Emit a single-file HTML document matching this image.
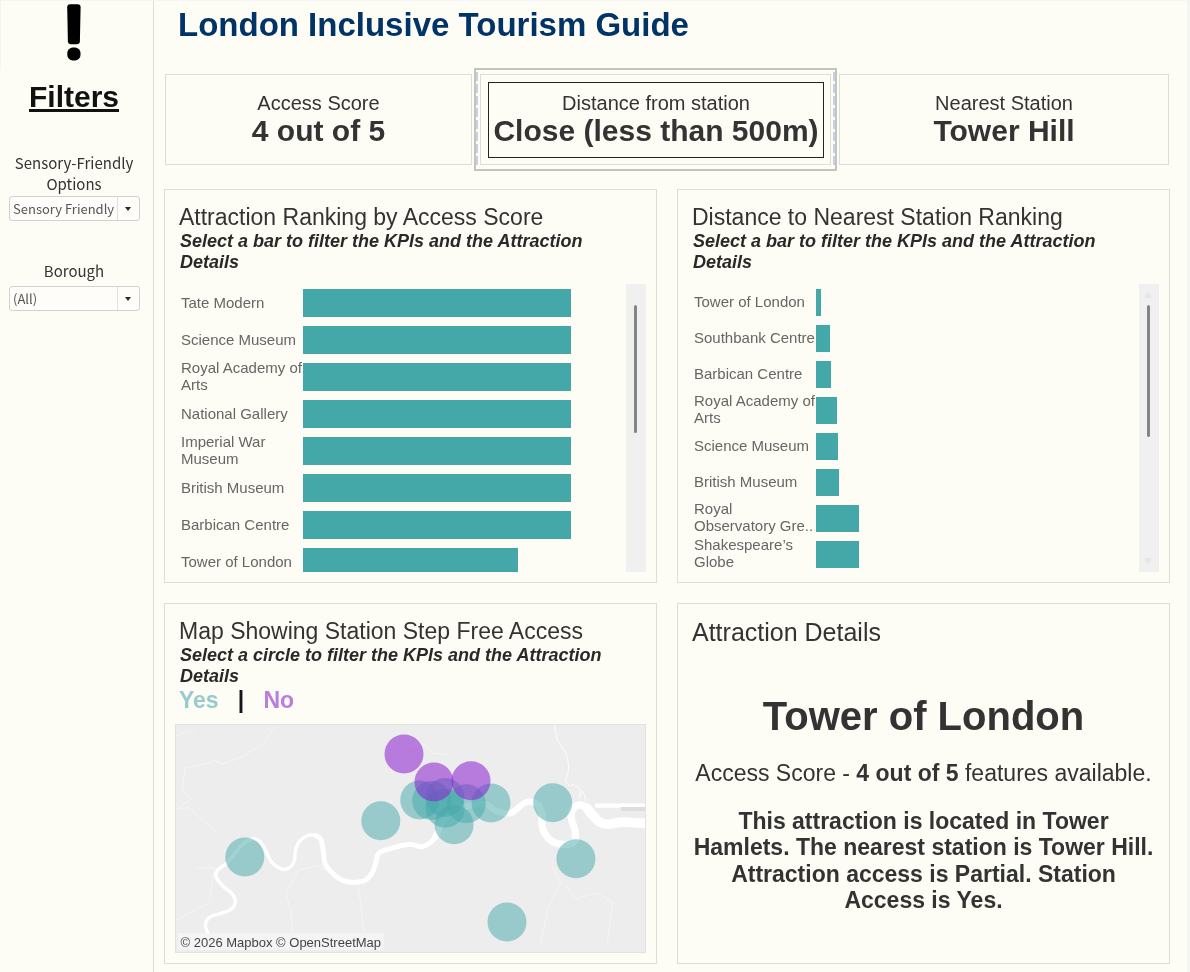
<!DOCTYPE html>
<html lang="en">
<head>
<meta charset="utf-8">
<title>London Inclusive Tourism Guide</title>
<style>
html,body{margin:0;padding:0;}
body{width:1190px;height:972px;background:#fdfcf5;position:relative;overflow:hidden;font-family:"Liberation Sans",Arial,sans-serif;color:#333;}
.abs{position:absolute;}
.box{position:absolute;border:1px solid #deddd2;box-sizing:border-box;}
.side-line{position:absolute;left:153px;top:0;width:1px;height:972px;background:#deddd2;}
.title{position:absolute;left:178px;top:5.5px;font-weight:bold;font-size:33px;line-height:38px;color:#003366;white-space:nowrap;}
.filters{position:absolute;left:0;width:148px;top:80px;text-align:center;font-weight:bold;font-size:30px;line-height:34px;color:#111;text-decoration:underline;}
.flabel{position:absolute;left:0;width:148px;text-align:center;font-family:"Noto Sans CJK SC","DejaVu Sans",sans-serif;font-size:15px;line-height:21px;color:#333;}
.dd{position:absolute;left:9px;width:131px;height:25px;box-sizing:border-box;border:1px solid #d2d2d4;border-radius:3px;background:#fefdfa;font-family:"Noto Sans CJK SC","DejaVu Sans",sans-serif;font-size:13px;color:#555;}
.dd span{position:absolute;left:3px;top:0;line-height:23px;white-space:nowrap;}
.dd i{position:absolute;left:107px;top:0;width:1px;height:23px;background:#e0e0e0;}
.dd b{position:absolute;left:115px;top:10px;width:0;height:0;border-left:3.5px solid transparent;border-right:3.5px solid transparent;border-top:4px solid #2a2a2a;}
.kpi-l{position:absolute;text-align:center;font-size:20px;line-height:23px;color:#333;white-space:nowrap;}
.kpi-v{position:absolute;text-align:center;font-size:30px;line-height:34px;font-weight:bold;color:#333;white-space:nowrap;}
.ptitle{position:absolute;font-size:23px;line-height:27px;color:#333;white-space:nowrap;}
.psub{position:absolute;font-size:18px;line-height:21px;font-weight:bold;font-style:italic;color:#292929;width:440px;}
.lbl{position:absolute;font-size:15px;line-height:17px;color:#666;white-space:nowrap;}
.bar{position:absolute;background:#44a8a9;}
</style>
</head>
<body>
<div class="side-line"></div>
<div class="abs" style="left:0;top:0;width:1190px;height:1px;background:#f5f5f5"></div>
<div class="abs" style="left:1187px;top:0;width:3px;height:972px;background:#f5f5f5"></div>
<div class="abs" style="left:0;top:0;width:1px;height:70px;background:#f5f5f5"></div>
<!-- sidebar -->
<svg class="abs" style="left:60px;top:0" width="30" height="66" viewBox="0 0 30 66">
  <path d="M7.2 7.2 Q7.2 4.2 10.2 4.2 L17.6 4.2 Q20.6 4.2 20.6 7.2 L19.9 41.2 Q19.8 44.2 16.8 44.2 L11 44.2 Q8 44.2 7.9 41.2 Z" fill="#000"/>
  <rect x="7.3" y="47.6" width="13.2" height="12.8" rx="5.4" fill="#000"/>
</svg>
<div class="filters">Filters</div>
<div class="flabel" style="top:152px">Sensory-Friendly<br>Options</div>
<div class="dd" style="top:196px"><span>Sensory Friendly</span><i></i><b></b></div>
<div class="flabel" style="top:260px">Borough</div>
<div class="dd" style="top:286px"><span>(All)</span><i></i><b></b></div>

<div class="title">London Inclusive Tourism Guide</div>

<!-- KPIs -->
<div class="box" style="left:165px;top:74px;width:307px;height:91px"></div>
<div class="kpi-l" style="left:165px;width:307px;top:92px">Access Score</div>
<div class="kpi-v" style="left:165px;width:307px;top:114px">4 out of 5</div>

<div class="abs" style="left:474px;top:68px;width:363px;height:103px;box-sizing:border-box;border:2px solid #c3c3c0"></div>
<div class="abs" style="left:476px;top:72px;width:2px;height:95px;background:repeating-linear-gradient(to bottom,#c5d0e3 0,#c5d0e3 9px,transparent 9px,transparent 12px)"></div>
<div class="abs" style="left:833px;top:72px;width:2px;height:95px;background:repeating-linear-gradient(to bottom,#c5d0e3 0,#c5d0e3 9px,transparent 9px,transparent 12px)"></div>
<div class="box" style="left:480px;top:74px;width:351px;height:91px"></div>
<div class="abs" style="left:488px;top:82px;width:336px;height:76px;box-sizing:border-box;border:1px solid #222"></div>
<div class="kpi-l" style="left:488px;width:336px;top:92px">Distance from station</div>
<div class="kpi-v" style="left:488px;width:336px;top:114px">Close (less than 500m)</div>

<div class="box" style="left:839px;top:74px;width:330px;height:91px"></div>
<div class="kpi-l" style="left:839px;width:330px;top:92px">Nearest Station</div>
<div class="kpi-v" style="left:839px;width:330px;top:114px">Tower Hill</div>

<!-- Panels -->
<div class="box" style="left:164px;top:189px;width:493px;height:394px"></div>
<div class="box" style="left:677px;top:189px;width:493px;height:394px"></div>
<div class="box" style="left:164px;top:603px;width:493px;height:361px"></div>
<div class="box" style="left:677px;top:603px;width:493px;height:361px"></div>

<!-- PANEL1 -->
<div class="ptitle" style="left:179px;top:204px">Attraction Ranking by Access Score</div>
<div class="psub" style="left:180px;top:231px">Select a bar to filter the KPIs and the Attraction Details</div>
<div class="abs" style="left:626px;top:284px;width:20px;height:288px;background:#f0f0f0"></div>
<div class="abs" style="left:634px;top:305px;width:3px;height:128px;background:#858585;border-radius:2px"></div>
<div class="bar" style="left:303px;top:289px;width:268px;height:28px"></div>
<div class="lbl" style="left:181px;top:294px">Tate Modern</div>
<div class="bar" style="left:303px;top:326px;width:268px;height:28px"></div>
<div class="lbl" style="left:181px;top:331px">Science Museum</div>
<div class="bar" style="left:303px;top:363px;width:268px;height:28px"></div>
<div class="lbl" style="left:181px;top:359px">Royal Academy of<br>Arts</div>
<div class="bar" style="left:303px;top:400px;width:268px;height:28px"></div>
<div class="lbl" style="left:181px;top:405px">National Gallery</div>
<div class="bar" style="left:303px;top:437px;width:268px;height:28px"></div>
<div class="lbl" style="left:181px;top:433px">Imperial War<br>Museum</div>
<div class="bar" style="left:303px;top:474px;width:268px;height:28px"></div>
<div class="lbl" style="left:181px;top:479px">British Museum</div>
<div class="bar" style="left:303px;top:511px;width:268px;height:28px"></div>
<div class="lbl" style="left:181px;top:516px">Barbican Centre</div>
<div class="bar" style="left:303px;top:548px;width:215px;height:24px"></div>
<div class="lbl" style="left:181px;top:553px">Tower of London</div>
<!-- PANEL2 -->
<div class="ptitle" style="left:692px;top:204px">Distance to Nearest Station Ranking</div>
<div class="psub" style="left:693px;top:231px">Select a bar to filter the KPIs and the Attraction Details</div>
<div class="abs" style="left:1139px;top:284px;width:20px;height:288px;background:#f0f0f0"></div>
<div class="abs" style="left:1147px;top:305px;width:3px;height:132px;background:#858585;border-radius:2px"></div>
<div class="abs" style="left:1144px;top:291px;width:0;height:0;border-left:4.5px solid transparent;border-right:4.5px solid transparent;border-bottom:7px solid #e6e6e6"></div>
<div class="abs" style="left:1144px;top:558px;width:0;height:0;border-left:4.5px solid transparent;border-right:4.5px solid transparent;border-top:7px solid #e6e6e6"></div>
<div class="bar" style="left:816px;top:289px;width:5px;height:27px"></div>
<div class="lbl" style="left:694px;top:293px">Tower of London</div>
<div class="bar" style="left:816px;top:325px;width:14px;height:27px"></div>
<div class="lbl" style="left:694px;top:329px">Southbank Centre</div>
<div class="bar" style="left:816px;top:361px;width:15px;height:27px"></div>
<div class="lbl" style="left:694px;top:365px">Barbican Centre</div>
<div class="bar" style="left:816px;top:397px;width:21px;height:27px"></div>
<div class="lbl" style="left:694px;top:392px">Royal Academy of<br>Arts</div>
<div class="bar" style="left:816px;top:433px;width:22px;height:27px"></div>
<div class="lbl" style="left:694px;top:437px">Science Museum</div>
<div class="bar" style="left:816px;top:469px;width:23px;height:27px"></div>
<div class="lbl" style="left:694px;top:473px">British Museum</div>
<div class="bar" style="left:816px;top:505px;width:43px;height:27px"></div>
<div class="lbl" style="left:694px;top:500px">Royal<br>Observatory Gre..</div>
<div class="bar" style="left:816px;top:541px;width:43px;height:27px"></div>
<div class="lbl" style="left:694px;top:536px">Shakespeare’s<br>Globe</div>
<!-- PANEL3 -->
<div class="ptitle" style="left:179px;top:618px">Map Showing Station Step Free Access</div>
<div class="psub" style="left:180px;top:645px">Select a circle to filter the KPIs and the Attraction Details</div>
<div class="abs" style="left:179px;top:687px;font-size:23px;line-height:26px;font-weight:bold;white-space:pre"><span style="color:#97cbcc">Yes</span>   <span style="color:#151520">|</span>   <span style="color:#ba7ddd">No</span></div>
<svg class="abs" style="left:175px;top:724px" width="471" height="229" viewBox="0 0 471 229">
<rect x="0" y="0" width="471" height="229" fill="#ededed"/>
<g fill="none" stroke="#f5f5f5" stroke-width="1" stroke-linejoin="round">
<polyline points="1.2,12.0 14.8,6.4 19.7,10.8"/>
<polyline points="9.8,44.1 27.1,40.4 39.4,36.7 46.9,40.4 66.6,33.0 88.8,19.5 99.9,2.2"/>
<polyline points="9.8,44.1 7.3,67.6 16.0,75.0 2.4,84.9"/>
<polyline points="2.4,84.9 14.8,83.7 22.2,92.3 32.0,99.7 41.9,109.6"/>
<polyline points="22.2,144.1 39.4,144.1 34.5,178.7 1.2,196.0"/>
<polyline points="111.0,168.8 123.4,146.6 140.7,141.7 150.6,145.4"/>
<polyline points="111.0,168.8 116.0,188.6 117.2,208.3"/>
<polyline points="182.7,161.4 186.4,183.7 188.8,208.3"/>
<polyline points="233.6,20.7 247.2,19.5 258.3,29.3 271.9,30.6"/>
<polyline points="375.7,139.2 385.6,159.0 373.2,183.7 365.8,218.2"/>
<polyline points="390.5,161.4 400.4,175.0 422.6,168.8 437.5,178.7 432.5,218.2"/>
</g>
<g fill="none" stroke="#fff" stroke-linejoin="round" stroke-linecap="round">
<path d="M379.6 1.0 C380.2 3.7 381.0 12.0 383.0 17.0 C385.0 22.0 389.6 26.2 391.4 30.9 C393.1 35.6 393.6 41.1 393.5 45.4 C393.4 49.7 390.4 53.8 390.7 56.6 C391.1 59.4 394.3 61.5 395.6 62.1 C396.9 62.7 396.7 59.8 398.3 60.4 C399.9 61.0 404.4 63.4 405.3 65.6 C406.2 67.9 403.4 73.5 403.9 73.9 C404.3 74.2 406.9 67.1 408.0 67.7 C409.1 68.3 410.3 75.8 410.8 77.4" stroke-width="1" stroke-opacity="0.8"/>
<path d="M33.5 212.0 C33.4 211.4 33.1 210.5 32.6 208.5 C32.1 206.5 30.0 202.8 30.3 200.2 C30.7 197.7 32.3 194.9 34.7 193.2 C37.0 191.5 40.9 191.1 44.4 189.8 C47.9 188.5 52.9 187.6 55.6 185.6 C58.3 183.6 60.2 180.6 60.4 177.9 C60.6 175.2 58.9 172.1 56.9 169.6 C54.9 167.1 51.1 165.3 48.6 162.7 C46.1 160.2 42.8 156.8 41.7 154.3 C40.5 151.7 40.8 149.4 41.7 147.4 C42.6 145.4 45.5 143.9 47.2 142.5 C48.9 141.1 49.8 141.5 52.1 139.1 C54.4 136.7 58.2 131.3 61.1 127.9 C64.0 124.5 66.4 121.1 69.4 118.9 C72.4 116.7 76.4 114.8 79.2 114.8 C82.0 114.8 84.1 116.8 86.1 118.9 C88.1 121.0 89.4 124.2 91.0 127.2 C92.6 130.3 93.8 134.3 95.8 137.0 C97.8 139.7 100.5 141.8 102.8 143.2 C105.1 144.6 107.4 145.5 109.7 145.3 C112.0 145.1 115.0 143.5 116.7 141.8 C118.4 140.1 119.0 137.7 119.7 134.9 C120.3 132.1 119.7 128.2 120.6 125.2 C121.5 122.2 123.1 119.0 125.0 116.8 C126.9 114.6 129.3 112.9 131.9 112.0 C134.4 111.1 138.0 110.7 140.3 111.3 C142.6 111.9 144.9 114.7 145.8 115.4" stroke-width="3.4"/>
<path d="M140.3 111.3 C141.2 112.0 144.4 112.6 145.8 115.4 C147.2 118.2 147.8 124.2 148.5 128.2 C149.2 132.2 148.6 136.0 149.9 139.3 C151.2 142.5 153.7 145.2 156.1 147.7 C158.5 150.3 161.6 152.9 164.4 154.6 C167.2 156.3 169.8 157.1 172.8 157.7 C175.8 158.3 179.5 158.4 182.5 158.1 C185.5 157.8 188.4 157.5 190.8 156.0 C193.2 154.5 195.5 151.9 197.1 149.1 C198.7 146.3 199.7 142.3 200.6 139.3 C201.5 136.3 201.7 133.0 202.6 131.0 C203.5 129.0 203.7 128.7 206.1 127.5 C208.5 126.4 213.5 125.1 217.2 124.1 C220.9 123.1 225.1 121.9 228.3 121.3 C231.6 120.7 233.7 120.4 236.7 120.6 C239.7 120.8 243.4 122.9 246.4 122.7 C249.4 122.5 252.4 120.8 254.7 119.2 C257.0 117.6 258.9 114.9 260.3 112.9 C261.7 110.9 262.6 108.3 263.0 107.4" stroke-width="5"/>
<path d="M260.3 112.9 C260.8 112.0 261.9 109.9 263.0 107.4 C264.1 104.9 265.0 100.9 267.0 98.0 C269.0 95.1 271.7 92.3 275.0 90.0 C278.3 87.7 282.8 85.6 287.0 84.0 C291.2 82.4 296.0 81.1 300.0 80.5 C304.0 79.9 308.5 80.1 311.0 80.5 C313.5 80.9 312.9 81.7 315.0 82.9 C317.1 84.1 319.8 86.7 323.3 87.8 C326.8 88.8 332.3 90.0 335.8 89.2 C339.3 88.4 341.7 84.7 344.2 82.9 C346.8 81.0 348.8 78.9 351.1 78.1 C353.4 77.3 355.9 77.5 358.0 78.1 C360.1 78.7 362.1 79.6 363.6 81.6 C365.1 83.6 366.5 88.5 367.1 89.9" stroke-width="6.2"/>
<path d="M363.6 81.6 C364.2 83.0 366.5 86.4 367.1 89.9 C367.7 93.4 366.5 98.9 367.1 102.4 C367.7 105.9 368.9 108.2 370.6 110.7 C372.3 113.3 374.7 116.1 377.5 117.7 C380.3 119.3 384.3 120.0 387.2 120.4 C390.1 120.8 392.9 120.6 395.0 120.0 C397.1 119.4 399.1 118.1 400.0 117.0 C400.9 115.9 400.4 115.5 400.4 113.5 C400.3 111.5 400.3 108.0 399.7 105.2 C399.1 102.4 397.5 99.3 396.9 96.8 C396.3 94.2 395.8 92.2 396.2 89.9 C396.7 87.6 398.2 84.4 399.7 82.9 C401.2 81.4 403.2 80.7 405.3 80.9 C407.4 81.1 410.1 82.6 412.2 84.3 C414.3 86.0 416.9 90.1 417.8 91.3" stroke-width="7.2"/>
<path d="M412.2 84.3 C413.1 85.5 415.7 89.0 417.8 91.3 C419.9 93.6 422.2 96.7 424.7 98.2 C427.2 99.7 429.3 100.3 433.0 100.3 C436.7 100.3 442.3 98.4 446.9 98.2 C451.5 98.0 456.4 98.7 460.8 98.9 C465.1 99.1 471.0 99.5 473.0 99.6" stroke-width="9.6"/>
</g>
<rect x="420" y="79.5" width="51" height="4.2" fill="#fff"/>
<rect x="446" y="83" width="25" height="4" fill="#dedede"/>
<circle cx="69.8" cy="133.0" r="19.5" fill="#44a8a9" fill-opacity="0.5"/>
<circle cx="205.8" cy="96.8" r="19.5" fill="#44a8a9" fill-opacity="0.5"/>
<circle cx="244.7" cy="76.0" r="19.5" fill="#44a8a9" fill-opacity="0.5"/>
<circle cx="256.7" cy="76.6" r="19.5" fill="#44a8a9" fill-opacity="0.5"/>
<circle cx="270.0" cy="73.4" r="19.5" fill="#44a8a9" fill-opacity="0.5"/>
<circle cx="270.2" cy="84.2" r="19.5" fill="#44a8a9" fill-opacity="0.5"/>
<circle cx="291.3" cy="79.7" r="19.5" fill="#44a8a9" fill-opacity="0.5"/>
<circle cx="316.0" cy="78.9" r="19.5" fill="#44a8a9" fill-opacity="0.5"/>
<circle cx="279.1" cy="100.8" r="19.5" fill="#44a8a9" fill-opacity="0.5"/>
<circle cx="377.7" cy="78.7" r="19.5" fill="#44a8a9" fill-opacity="0.5"/>
<circle cx="400.9" cy="134.8" r="19.5" fill="#44a8a9" fill-opacity="0.5"/>
<circle cx="332.0" cy="198.0" r="19.5" fill="#44a8a9" fill-opacity="0.5"/>
<circle cx="229.0" cy="30.0" r="19.5" fill="#8a1ed2" fill-opacity="0.55"/>
<circle cx="259.0" cy="58.0" r="19.5" fill="#8a1ed2" fill-opacity="0.55"/>
<circle cx="296.0" cy="56.7" r="19.5" fill="#8a1ed2" fill-opacity="0.55"/>
<rect x="0.5" y="0.5" width="470" height="228" fill="none" stroke="#e2e2e2"/>
<rect x="3" y="209" width="206" height="17" fill="#f4f4f4" fill-opacity="0.9"/>
<text x="5.5" y="222.5" font-family="Liberation Sans, Arial, sans-serif" font-size="13" fill="#444">© 2026 Mapbox © OpenStreetMap</text>
</svg>
<!-- PANEL4 -->
<div class="ptitle" style="left:692px;top:618px;font-size:25px;line-height:29px">Attraction Details</div>
<div class="abs" style="left:692px;width:463px;top:693px;text-align:center;font-weight:bold;font-size:40px;line-height:46px;color:#333">Tower of London</div>
<div class="abs" style="left:680px;width:487px;top:760px;text-align:center;font-size:23px;line-height:27px;color:#333;white-space:nowrap">Access Score - <b>4 out of 5</b> features available.</div>
<div class="abs" style="left:685px;width:477px;top:808px;text-align:center;font-weight:bold;font-size:23px;line-height:26.3px;color:#333">This attraction is located in Tower<br>Hamlets. The nearest station is Tower Hill.<br>Attraction access is Partial. Station<br>Access is Yes.</div>
</body>
</html>
